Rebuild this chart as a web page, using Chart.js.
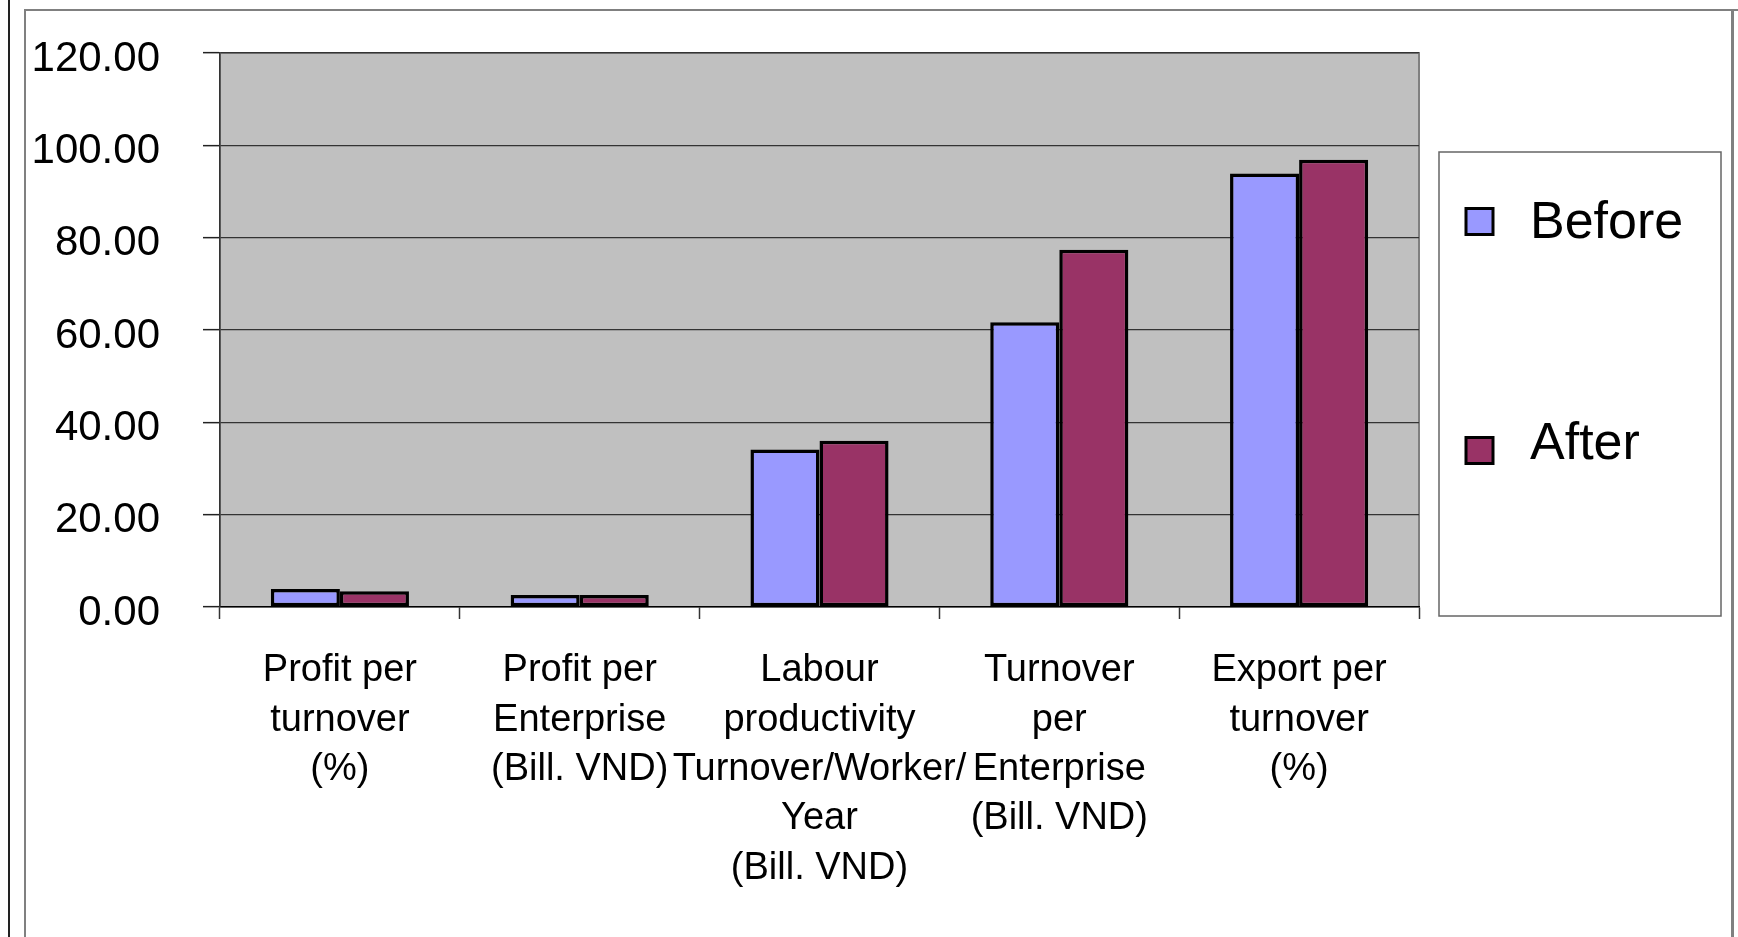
<!DOCTYPE html>
<html>
<head>
<meta charset="utf-8">
<title>Before / After</title>
<script src="https://cdn.jsdelivr.net/npm/chart.js@4.4.0/dist/chart.umd.min.js"></script>
<style>
    html, body { margin: 0; padding: 0; background: #ffffff; }
    #wrap { position: relative; width: 1738px; height: 937px; overflow: hidden; }
    #roomChart { position: absolute; left: 0; top: 0; }
    .line { position: absolute; }
</style>
</head>
<body>
<div id="wrap">
    <div class="line" style="left:8px; top:0; width:2px; height:937px; background:#222;"></div>
    <div class="line" style="left:24px; top:9px; width:2px; height:928px; background:#808080;"></div>
    <div class="line" style="left:24px; top:9px; width:1714px; height:2px; background:#808080;"></div>
    <div class="line" style="left:1731px; top:9px; width:3px; height:928px; background:#808080;"></div>
    <canvas id="roomChart" width="1738" height="937"></canvas>
</div>
<script>
// Dữ liệu biểu đồ
const categories = [
    ['Profit per', 'turnover', '(%)'],
    ['Profit per', 'Enterprise', '(Bill. VND)'],
    ['Labour', 'productivity', 'Turnover/Worker/', 'Year', '(Bill. VND)'],
    ['Turnover', 'per', 'Enterprise', '(Bill. VND)'],
    ['Export per', 'turnover', '(%)']
];
const beforeValues = [3.9, 2.6, 34.1, 61.7, 93.9];
const afterValues = [3.4, 2.6, 36.0, 77.4, 96.9];
const seriesNames = ['Before', 'After'];
const yMin = 0;
const yMax = 120;
const yStep = 20;

const fontFamily = '"Liberation Sans", Arial, sans-serif';

// Nền xám của vùng vẽ
const plotBackground = {
    id: 'plotBackground',
    beforeDraw(chart) {
        const { ctx, chartArea } = chart;
        ctx.save();
        ctx.fillStyle = '#c0c0c0';
        ctx.fillRect(chartArea.left, chartArea.top, chartArea.right - chartArea.left, chartArea.bottom - chartArea.top);
        ctx.strokeStyle = '#808080';
        ctx.lineWidth = 2;
        ctx.beginPath();
        ctx.moveTo(chartArea.left, chartArea.bottom);
        ctx.lineTo(chartArea.left, chartArea.top);
        ctx.lineTo(chartArea.right, chartArea.top);
        ctx.lineTo(chartArea.right, chartArea.bottom);
        ctx.stroke();
        ctx.restore();
    }
};

// Chú thích dạng hộp bên phải
const boxLegend = {
    id: 'boxLegend',
    afterDraw(chart) {
        const ctx = chart.ctx;
        ctx.save();
        ctx.strokeStyle = '#666666';
        ctx.lineWidth = 1.5;
        ctx.strokeRect(1439, 152, 282, 464);
        const markerRows = [221.5, 450.5];
        const textRows = [223.5, 444.5];
        chart.data.datasets.forEach((ds, i) => {
            const cy = markerRows[i];
            ctx.fillStyle = ds.backgroundColor;
            ctx.fillRect(1466, cy - 13, 27, 26);
            ctx.strokeStyle = '#000000';
            ctx.lineWidth = 3;
            ctx.strokeRect(1466, cy - 13, 27, 26);
            ctx.fillStyle = '#000000';
            ctx.font = '52px ' + fontFamily;
            ctx.textBaseline = 'middle';
            ctx.textAlign = 'left';
            ctx.fillText(ds.label, 1530, textRows[i]);
        });
        ctx.restore();
    }
};

const ctx = document.getElementById('roomChart').getContext('2d');
const roomChart = new Chart(ctx, {
    type: 'bar',
    data: {
        labels: categories,
        datasets: [
            {
                label: seriesNames[0],
                data: beforeValues,
                backgroundColor: '#9999ff',
                borderColor: '#000000',
                borderWidth: 3.5,
                borderSkipped: false
            },
            {
                label: seriesNames[1],
                data: afterValues,
                backgroundColor: '#993366',
                borderColor: '#000000',
                borderWidth: 3.5,
                borderSkipped: false
            }
        ]
    },
    options: {
        responsive: false,
        animation: false,
        events: [],
        layout: {
            padding: { left: 25, top: 53, right: 319, bottom: 0 }
        },
        plugins: {
            legend: { display: false },
            tooltip: { enabled: false }
        },
        datasets: {
            bar: { categoryPercentage: 0.576, barPercentage: 1 }
        },
        scales: {
            x: {
                offset: true,
                grid: {
                    offset: true,
                    drawOnChartArea: false,
                    drawTicks: true,
                    tickLength: 12,
                    tickColor: '#333333',
                    tickWidth: 1.5
                },
                border: { display: true, color: '#000000', width: 1.5 },
                ticks: {
                    color: '#000000',
                    autoSkip: false,
                    maxRotation: 0,
                    minRotation: 0,
                    padding: 27,
                    font: { family: fontFamily, size: 38, lineHeight: 1.3 }
                },
                afterFit(scale) {
                    scale.height = 330;
                }
            },
            y: {
                min: yMin,
                max: yMax,
                grid: {
                    color: '#333333',
                    lineWidth: 1.3,
                    drawTicks: true,
                    tickLength: 17,
                    tickColor: '#222222',
                    tickWidth: 1.5
                },
                border: { display: true, color: '#333333', width: 1.5 },
                ticks: {
                    stepSize: yStep,
                    color: '#000000',
                    padding: 43,
                    labelOffset: 6,
                    font: { family: fontFamily, size: 42 },
                    callback: value => value.toFixed(2)
                },
                afterFit(scale) {
                    scale.width = 195;
                    // bỏ phần đệm trên/dưới do nhãn tạo ra
                    scale.paddingTop = 0;
                    scale.paddingBottom = 0;
                }
            }
        }
    },
    plugins: [plotBackground, boxLegend]
});
</script>
</body>
</html>
